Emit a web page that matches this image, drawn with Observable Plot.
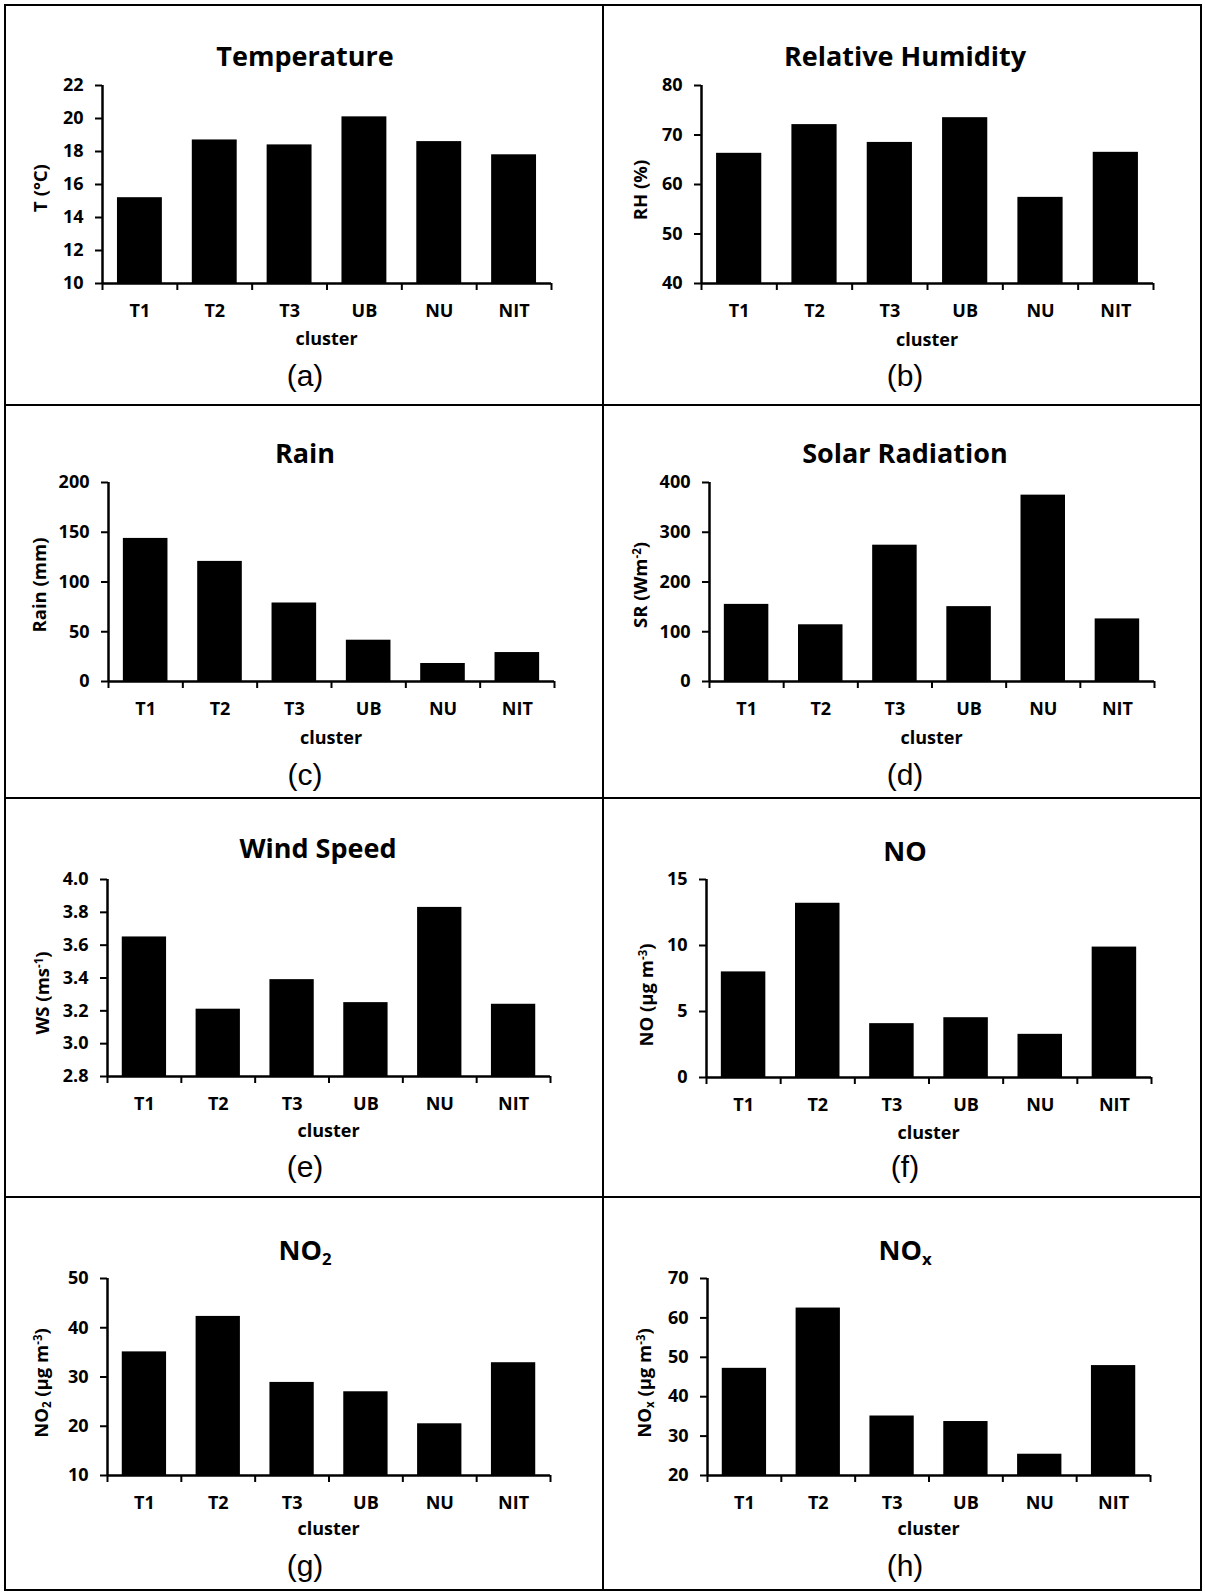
<!DOCTYPE html>
<html><head><meta charset="utf-8">
<script src="https://cdn.jsdelivr.net/npm/d3@7"></script>
<script src="https://cdn.jsdelivr.net/npm/@observablehq/plot@0.6"></script>
<style>
body{margin:0;background:#fff;}
#root{position:relative;width:1205px;height:1593px;background:#fff;overflow:hidden;font-family:"Open Sans",sans-serif;color:#000;}
.t{position:absolute;white-space:nowrap;line-height:1;transform:translate(-50%,-50%);color:#000;}
.title{font-weight:700;font-size:27px;}
.ylab{font-weight:700;font-size:18.5px;transform:translate(-50%,-50%) rotate(-90deg);}
.xlab{font-weight:700;font-size:18px;}
.cap{font-family:"Liberation Sans",Arial,sans-serif;font-size:30px;}
.line{position:absolute;background:#000;}
.sub{font-size:0.62em;vertical-align:-0.28em;}
.sup{font-size:0.62em;vertical-align:0.55em;}
.panel{position:absolute;}
</style></head><body><div id="root"></div>
<script>
// ---- data ----
const clusters = ["T1", "T2", "T3", "UB", "NU", "NIT"];
const temperature = [15.2, 18.7, 18.4, 20.1, 18.6, 17.8];
const humidity = [66.3, 72.1, 68.5, 73.5, 57.4, 66.5];
const rain = [143.8, 120.7, 78.9, 41.5, 18.1, 29.1];
const solar = [155, 114, 274, 150.5, 374.6, 125.8];
const wind = [3.65, 3.21, 3.39, 3.25, 3.83, 3.24];
const no = [8.0, 13.2, 4.08, 4.53, 3.27, 9.88];
const no2 = [35.1, 42.3, 28.9, 27.0, 20.5, 32.9];
const nox = [47.2, 62.5, 35.1, 33.7, 25.4, 47.9];

const ticksT = [10, 12, 14, 16, 18, 20, 22];
const ticksRH = [40, 50, 60, 70, 80];
const ticksRain = [0, 50, 100, 150, 200];
const ticksSR = [0, 100, 200, 300, 400];
const ticksWS = [2.8, 3.0, 3.2, 3.4, 3.6, 3.8, 4.0];
const ticksNO = [0, 5, 10, 15];
const ticksNO2 = [10, 20, 30, 40, 50];
const ticksNOx = [20, 30, 40, 50, 60, 70];

const titles = ["Temperature", "Relative Humidity", "Rain", "Solar Radiation", "Wind Speed", "NO",
  'NO<span class="sub">2</span>', 'NO<span class="sub">x</span>'];
const yLabels = ["T (°C)", "RH (%)", "Rain (mm)", 'SR (Wm<span class="sup">-2</span>)',
  'WS (ms<span class="sup">-1</span>)', 'NO (µg m<span class="sup">-3</span>)',
  'NO<span class="sub">2</span> (µg m<span class="sup">-3</span>)',
  'NO<span class="sub">x</span> (µg m<span class="sup">-3</span>)'];
const captions = ["(a)", "(b)", "(c)", "(d)", "(e)", "(f)", "(g)", "(h)"];
const seriesList = [temperature, humidity, rain, solar, wind, no, no2, nox];
const tickList = [ticksT, ticksRH, ticksRain, ticksSR, ticksWS, ticksNO, ticksNO2, ticksNOx];
const tickFormats = [d3.format("d"), d3.format("d"), d3.format("d"), d3.format("d"), d3.format(".1f"), d3.format("d"), d3.format("d"), d3.format("d")];

// ---- layout (pixel geometry) ----
const colX = [5, 603, 1201];
const rowY = [5, 405, 798, 1197, 1590];
// plot frame [left, right, top, bottom] per panel
const frames = [
  [102, 551, 85, 283], [701, 1153, 85, 283],
  [108, 554, 482, 681], [709, 1154, 482, 681],
  [107, 550, 879, 1076], [706, 1151, 879, 1077],
  [107, 550, 1278, 1475], [707, 1150, 1278, 1475]
];
// text anchors: title [x,y], ylabel [x,y], cluster y, caption [x,y]
const texts = [
  {title:[305,55], ylab:[40,188], clus:338, cap:[305,376]},
  {title:[905,55], ylab:[640,190], clus:339, cap:[905,376]},
  {title:[305,452], ylab:[39,585], clus:737, cap:[305,775]},
  {title:[905,452], ylab:[640,585], clus:737, cap:[905,775]},
  {title:[318,847], ylab:[42,993], clus:1130, cap:[305,1167]},
  {title:[905,850], ylab:[646,995], clus:1132, cap:[905,1167]},
  {title:[305,1252], ylab:[42,1383], clus:1528, cap:[305,1566]},
  {title:[905,1252], ylab:[645,1383], clus:1528, cap:[905,1566]}
];

const root = document.getElementById("root");
function addDiv(cls, html, x, y) {
  const d = document.createElement("div");
  d.className = "t " + cls;
  d.innerHTML = html;
  d.style.left = x + "px";
  d.style.top = y + "px";
  root.appendChild(d);
}
function addLine(x, y, w, h) {
  const d = document.createElement("div");
  d.className = "line";
  d.style.left = x + "px"; d.style.top = y + "px";
  d.style.width = w + "px"; d.style.height = h + "px";
  root.appendChild(d);
}

for (let p = 0; p < 8; p++) {
  const col = p % 2, row = Math.floor(p / 2);
  const cx = colX[col], cy = rowY[row];
  const cw = colX[col + 1] - cx, ch = rowY[row + 1] - cy;
  const [L, R, T, B] = frames[p];
  const ticks = tickList[p];
  const ymin = ticks[0], ymax = ticks[ticks.length - 1];
  const data = clusters.map((c, i) => ({c, i, v: seriesList[p][i]}));
  const chart = Plot.plot({
    width: cw, height: ch,
    marginLeft: L - cx, marginRight: cx + cw - R,
    marginTop: T - cy, marginBottom: cy + ch - B,
    style: {fontFamily: "'Open Sans', sans-serif", fontSize: "18px", fontWeight: 700, background: "transparent", color: "#000", overflow: "visible"},
    x: {domain: [0, clusters.length], axis: null},
    y: {domain: [ymin, ymax], axis: null},
    marks: [
      Plot.rectY(data, {x1: d => d.i + 0.2, x2: d => d.i + 0.8, y1: ymin, y2: "v", fill: "#000"}),
      Plot.axisY({ticks, tickFormat: tickFormats[p], tickSize: 7, tickPadding: 12, strokeWidth: 2, label: null}),
      Plot.axisX({ticks: d3.range(clusters.length + 1), tickSize: 7, tickFormat: () => "", strokeWidth: 2, label: null}),
      Plot.axisX({ticks: d3.range(clusters.length).map(i => i + 0.5), tickSize: 0, tickPadding: 21,
        tickFormat: d => clusters[Math.floor(d)], label: null}),
      Plot.ruleX([0], {strokeWidth: 2.5}),
      Plot.ruleY([ymin], {strokeWidth: 2.5})
    ]
  });
  chart.classList.add("panel");
  chart.style.left = cx + "px";
  chart.style.top = cy + "px";
  root.appendChild(chart);

  const t = texts[p];
  addDiv("title", titles[p], t.title[0], t.title[1]);
  addDiv("ylab", yLabels[p], t.ylab[0], t.ylab[1]);
  addDiv("xlab", "cluster", (L + R) / 2, t.clus);
  addDiv("cap", captions[p], t.cap[0], t.cap[1]);
}

// panel borders
const lw = 2;
for (let r = 0; r < rowY.length; r++) addLine(colX[0] - 1, rowY[r] - 1, colX[2] - colX[0] + lw, lw);
for (let c = 0; c < colX.length; c++) addLine(colX[c] - 1, rowY[0] - 1, lw, rowY[4] - rowY[0] + lw);
</script>
</body></html>
